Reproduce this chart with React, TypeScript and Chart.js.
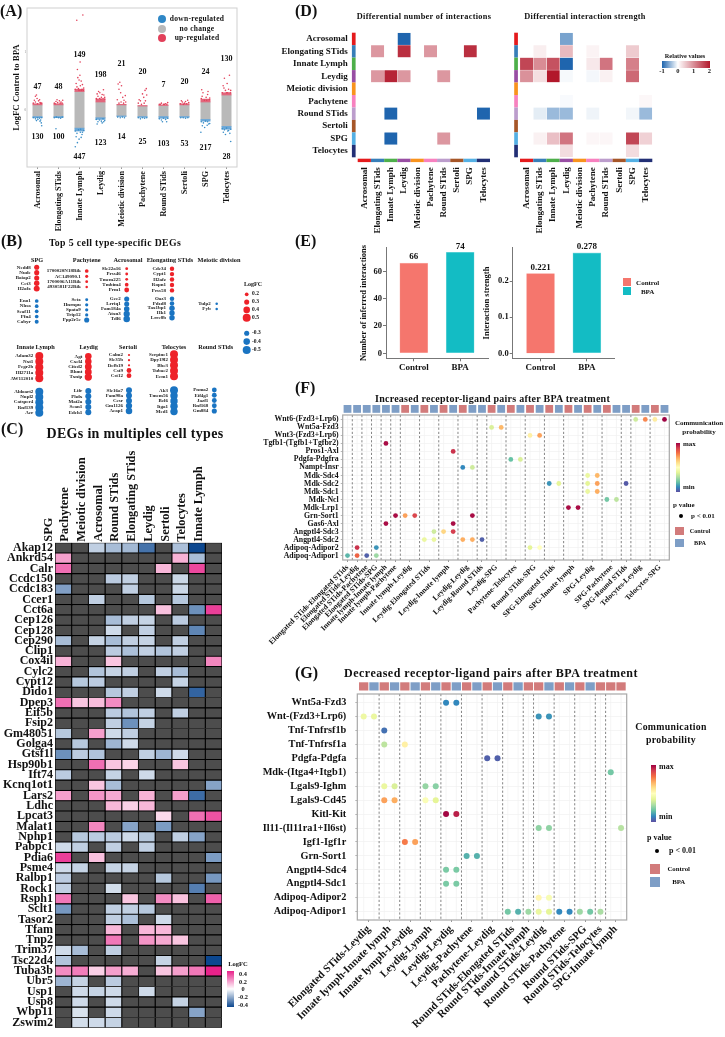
import React, { useEffect, useRef } from 'react';
import Chart from 'chart.js/auto';

const SERIF = '"Liberation Serif"';
const W = 725, H = 1037;

/* ---------- shared categories ---------- */
const cellTypes = ['Acrosomal', 'Elongating STids', 'Innate Lymph', 'Leydig', 'Meiotic division', 'Pachytene', 'Round STids', 'Sertoli', 'SPG', 'Telocytes'];

/* ---------- panel A data ---------- */
const aBandTop = [0.09, 0.09, 0.32, 0.14, 0.09, 0.07, 0.08, 0.09, 0.14, 0.26];
const aBandBottom = [-0.11, -0.11, -0.31, -0.13, -0.10, -0.11, -0.11, -0.11, -0.16, -0.28];
const aUpDense = [0.02, 0.02, 0.04, 0.05, 0.01, 0.01, 0.01, 0.02, 0.05, 0.04];
const aDownDense = [0.02, 0.02, 0.05, 0.03, 0.01, 0.015, 0.03, 0.015, 0.03, 0.05];
const aUpCounts = [47, 48, 149, 198, 21, 20, 7, 20, 24, 130];
const aDownCounts = [130, 100, 447, 123, 14, 25, 103, 53, 217, 28];
const aUpLabelY = [0.40, 0.40, 0.95, 0.60, 0.79, 0.66, 0.43, 0.48, 0.66, 0.88];
const aDownLabelY = [-0.47, -0.47, -0.81, -0.57, -0.47, -0.55, -0.59, -0.59, -0.66, -0.81];
const aUpPoints = [
  [-.2, .12, -.1, .14, 0, .11, .12, .13, .2, .12, -.15, .17, -.02, .2, .05, .16, -.1, .24, -.05, .26, .1, .18, .15, .12],
  [-.2, .12, -.12, .15, -.04, .13, .04, .16, .12, .14, .2, .17, -.16, .11, .08, .12, .17, .12, -.07, .18],
  [-.2, .36, -.12, .4, -.05, .37, .04, .42, .12, .36, .2, .38, -.16, .46, -.02, .52, .08, .5, .14, .44, -.08, .56, .02, .6, -.13, 1.55, .16, 1.64, .03, .83, -.1, .7, .08, .34, -.02, .34, .18, .34],
  [-.2, .2, -.12, .24, -.05, .2, .04, .22, .12, .2, .2, .22, -.16, .28, -.03, .3, .08, .27, .14, .35, -.09, .32, .16, .26, .02, .19, -.18, .19, .2, .19],
  [-.2, .18, -.12, .36, -.08, .48, 0, .42, .06, .22, .12, .17, .18, .25, -.04, .3, -.16, .45, .2, .14, .1, .12, -.02, .14, -.12, .12],
  [-.2, .12, -.1, .16, 0, .28, .06, .22, .12, .34, .18, .37, .2, .26, -.05, .1, .14, .16, .08, .12, -.16, .18],
  [-.2, .1, -.1, .12, 0, .1, .1, .11, .2, .13, .16, .1, -.15, .1, .05, .1],
  [-.2, .11, -.1, .14, 0, .12, .1, .11, .2, .13, -.15, .16, .05, .15, .15, .17, -.05, .1],
  [-.2, .2, -.12, .3, -.05, .17, .03, .22, .1, .27, .18, .18, -.16, .24, .12, .32, -.18, .35, .2, .21, .06, .17],
  [-.2, .3, -.12, .38, -.05, .34, .03, .46, .1, .36, .18, .3, -.16, .42, .14, .6, -.1, .55, .06, .3, .2, .34, 0, .3],
];
const aDownPoints = [
  [-.2, -.13, -.1, -.15, 0, -.13, .1, -.14, .2, -.13, -.05, -.18, .12, -.19, .18, -.22, .2, -.27, .02, -.16, .15, -.17],
  [-.2, -.13, -.1, -.12, 0, -.13, .1, -.14, .18, -.12, -.12, -.32],
  [-.2, -.36, -.12, -.4, -.05, -.34, .04, -.38, .12, -.42, .2, -.35, -.16, -.46, -.02, -.5, .08, -.47, .14, -.38, -.1, -.56, -.2, -.63, .05, -.33],
  [-.2, -.16, -.12, -.2, -.05, -.17, .04, -.19, .12, -.15, .2, -.18, -.16, -.24, .08, -.22, .15, -.2],
  [-.18, -.12, -.06, -.13, .04, -.12, .14, -.13],
  [-.2, -.13, -.1, -.15, 0, -.13, .1, -.14, .2, -.13],
  [-.2, -.15, -.1, -.17, 0, -.14, .1, -.16, .2, -.14, .15, -.2, -.05, -.2],
  [-.18, -.13, -.06, -.13, .05, -.14, .16, -.13],
  [-.2, -.2, -.1, -.22, 0, -.19, .1, -.2, .2, -.23, -.15, -.27, .08, -.26, -.04, -.3, .15, -.24, -.22, -.38],
  [-.2, -.32, -.1, -.34, 0, -.31, .1, -.35, .2, -.33, -.15, -.38, .06, -.36, .16, -.4, .2, -.54, -.05, -.42],
];

/* ---------- panel B data ---------- */
const spgUpGenes = ['Nedd8', 'Nude', 'Baiap2', 'Cct3', 'H2afx'];
const spgUpFc = [0.3, 0.3, 0.3, 0.32, 0.36];
const spgDownGenes = ['Eno1', 'Nhsa', 'Scaf11', 'Pfn4', 'Cabyr'];
const spgDownFc = [0.2, 0.2, 0.2, 0.2, 0.22];
const pachyUpGenes = ['1700020N18Rik', 'AC149090.1', '1700006A11Rik', '4930581F22Rik'];
const pachyUpFc = [0.2, 0.16, 0.14, 0.12];
const pachyDownGenes = ['Setx', 'Hnrnpu', 'Spata9', 'Trip12', 'Ppp2r5c'];
const pachyDownFc = [0.15, 0.17, 0.17, 0.17, 0.3];
const acroUpGenes = ['Slc22a16', 'Prss46', 'Tmem225', 'Tmbim4', 'Prm1'];
const acroUpFc = [0.14, 0.14, 0.14, 0.2, 0.28];
const acroDownGenes = ['Gcc2', 'Lrriq1', 'Fam184a', 'Atxn3', 'Tdl6'];
const acroDownFc = [0.3, 0.3, 0.33, 0.38, 0.4];
const elongUpGenes = ['Cdc34', 'Cypt1', 'H2afz', 'Ropn1', 'Prss58'];
const elongUpFc = [0.25, 0.25, 0.25, 0.25, 0.25];
const elongDownGenes = ['Oaz3', 'Pdzd8', 'Tax1bp1', 'Hk1', 'Lrrc8b'];
const elongDownFc = [0.26, 0.26, 0.32, 0.32, 0.32];
const meioDownGenes = ['Tulp2', 'Fyb'];
const meioDownFc = [0.12, 0.12];
const innateUpGenes = ['Adam32', 'Nxt1', 'Fcgr2b', 'Hl2711a', 'AW112010'];
const innateUpFc = [0.5, 0.5, 0.5, 0.5, 0.5];
const innateDownGenes = ['Aldoart2', 'Nupl2', 'Catsper4', 'Rnf139', 'Acr'];
const innateDownFc = [0.5, 0.5, 0.5, 0.5, 0.5];
const leydigUpGenes = ['Agt', 'Cxcl4', 'Cited2', 'Bhmt', 'Txnip'];
const leydigUpFc = [0.4, 0.4, 0.42, 0.42, 0.45];
const leydigDownGenes = ['Lifr', 'Phdx', 'Mat2a', 'Scan1', 'Edeh1'];
const leydigDownFc = [0.36, 0.36, 0.36, 0.36, 0.36];
const sertoliUpGenes = ['Calm2', 'Slc35b', 'Defb19', 'Cst9', 'Cst12'];
const sertoliUpFc = [0.1, 0.1, 0.1, 0.28, 0.28];
const sertoliDownGenes = ['Slc16a7', 'Fam98a', 'Ccsr', 'Gm1126', 'Acap1'];
const sertoliDownFc = [0.36, 0.36, 0.36, 0.38, 0.4];
const teloUpGenes = ['Serpine1', 'Dpy19l2', 'Bbc3', 'Tubac2', 'Ecm1'];
const teloUpFc = [0.5, 0.5, 0.5, 0.5, 0.5];
const teloDownGenes = ['Ak3', 'Tmem56', 'Bcl6', 'Itga1', 'Med1'];
const teloDownFc = [0.5, 0.46, 0.46, 0.46, 0.46];
const roundDownGenes = ['Pnma2', 'Eif4g1', 'Jazf1', 'Rnf168', 'Gm884'];
const roundDownFc = [0.28, 0.28, 0.28, 0.28, 0.3];
const bLegendUp = [0.2, 0.3, 0.4, 0.5];
const bLegendDown = [0.3, 0.4, 0.5];

/* ---------- panel C data ---------- */
const cColumns = ['SPG', 'Pachytene', 'Meiotic division', 'Acrosomal', 'Round STids', 'Elongating STids', 'Leydig', 'Sertoli', 'Telocytes', 'Innate Lymph'];
const cGenes = ['Akap12', 'Ankrd54', 'Calr', 'Ccdc150', 'Ccdc183', 'Ccer1', 'Cct6a', 'Cep126', 'Cep128', 'Cep290', 'Clip1', 'Cox4il', 'Cylc2', 'Cypt12', 'Dido1', 'Dpep3', 'Eif5b', 'Fsip2', 'Gm48051', 'Golga4', 'Gtsf1l', 'Hsp90b1', 'Ift74', 'Kcnq1ot1', 'Lars2', 'Ldhc', 'Lpcat3', 'Malat1', 'Nphp1', 'Pabpc1', 'Pdia6', 'Psme4', 'Ralbp1', 'Rock1', 'Rsph1', 'Sclt1', 'Tasor2', 'Tfam', 'Tnp2', 'Trim37', 'Tsc22d4', 'Tuba3b', 'Ubr5', 'Usp1', 'Usp8', 'Wbp11', 'Zswim2'];
const n = null;
const cValues = [
  [n, n, -.13, -.18, -.19, -.38, n, -.17, -.5, n],
  [.2, n, n, n, n, n, n, .16, -.18, n],
  [.3, n, n, n, n, n, .15, n, .38, n],
  [n, n, n, -.14, -.13, n, n, -.11, n, n],
  [-.26, n, n, n, -.13, n, n, -.11, n, n],
  [n, n, -.13, n, n, -.15, n, -.15, n, n],
  [n, n, n, n, n, n, .13, n, -.3, .4],
  [n, n, n, -.18, -.13, -.12, n, -.14, n, n],
  [n, n, n, -.1, n, -.13, n, n, -.33, n],
  [-.18, n, -.12, -.18, -.13, -.12, n, -.13, n, n],
  [n, n, n, -.14, -.17, -.13, -.16, -.13, n, n],
  [.16, n, n, .12, n, n, n, n, n, .25],
  [n, n, -.16, -.12, -.13, n, -.13, -.18, n, n],
  [n, -.15, -.14, n, n, n, n, -.12, n, n],
  [n, n, n, -.15, -.13, n, -.1, n, -.42, n],
  [.3, .12, .14, .24, n, n, n, n, n, n],
  [n, n, n, -.14, -.16, -.13, n, -.13, n, n],
  [n, n, n, -.13, -.3, -.12, n, n, n, n],
  [-.15, n, .2, -.1, -.13, n, n, n, n, n],
  [n, -.15, n, -.2, -.1, n, n, n, n, n],
  [-.3, -.14, -.16, n, n, -.13, -.2, -.1, n, n],
  [n, n, .3, .12, .09, n, n, .12, n, n],
  [-.14, n, n, -.12, n, -.1, n, n, n, n],
  [n, n, .12, -.18, n, n, n, n, n, -.25],
  [.2, n, .22, .18, n, .16, n, .2, -.4, n],
  [n, n, n, .15, .1, .15, n, n, n, n],
  [n, n, n, n, n, n, .08, n, .3, .36],
  [n, n, .25, n, -.25, n, -.27, n, n, n],
  [n, -.15, -.14, -.14, -.1, -.15, n, -.13, -.25, n],
  [-.1, -.13, n, -.13, n, -.13, n, n, n, n],
  [.4, n, .13, n, n, n, n, n, n, -.27],
  [-.1, -.12, n, -.12, -.12, n, n, n, n, n],
  [-.14, n, n, n, n, n, -.15, n, n, -.28],
  [-.13, n, n, -.09, n, n, n, n, -.35, n],
  [.28, n, n, n, .12, n, .24, .13, n, .33],
  [-.28, n, n, -.13, -.13, -.15, n, n, n, n],
  [n, n, n, -.13, -.17, n, -.1, n, n, n],
  [n, n, n, .15, n, .15, .15, n, n, n],
  [n, n, n, .28, n, .22, .18, .12, n, n],
  [-.1, -.18, n, -.13, n, n, n, n, n, n],
  [-.16, n, n, n, n, n, -.12, n, n, -.5],
  [.24, .27, .1, .2, .17, n, .12, .2, .28, .48],
  [-.2, -.12, n, -.14, n, n, n, n, n, n],
  [n, -.1, -.12, -.1, n, -.1, n, n, n, n],
  [n, -.1, n, -.1, n, n, n, -.12, n, n],
  [n, -.08, n, -.1, n, n, n, n, -.25, n],
  [n, -.09, -.1, -.12, n, n, n, n, n, n],
];

/* ---------- panel D data ---------- */
const dNumberValues = [
  [n, n, n, -1, n, n, n, n, n, n],
  [n, .9, n, 1.8, n, .9, n, n, 1.8, n],
  [n, n, n, n, n, n, n, n, n, n],
  [n, .9, 1.9, .9, n, n, .9, n, n, n],
  [n, n, n, n, n, n, n, n, n, n],
  [n, n, n, n, n, n, n, n, n, n],
  [n, n, -1, n, n, n, n, n, n, -1],
  [n, n, n, n, n, n, n, n, n, n],
  [n, n, -1, n, n, n, .9, n, n, n],
  [n, n, n, n, n, n, n, n, n, n],
];
const dStrengthValues = [
  [n, n, n, -.6, n, n, n, n, n, n],
  [n, .15, n, .6, n, .1, n, n, .45, n],
  [1.6, 1, 1.5, -1, n, .2, 1.2, n, 1.1, n],
  [.95, .28, 2, -.04, n, -.05, .12, n, 1.3, n],
  [n, n, n, n, n, n, n, n, n, n],
  [n, n, n, -.03, n, n, n, n, n, .07],
  [n, -.12, -.45, -.45, n, -.07, n, n, -.06, -.45],
  [n, n, n, n, n, n, n, n, n, n],
  [n, .12, .55, 1.2, n, .08, .08, n, 1.6, .4],
  [n, n, n, .3, n, n, n, n, .3, n],
];

/* ---------- panel E data ---------- */
const eConditions = ['Control', 'BPA'];
const eNumbers = [66, 74];
const eStrengths = [0.221, 0.278];
const eNumberTicks = [0, 20, 40, 60];
const eStrengthTicks = [0, 0.1, 0.2];

/* ---------- panel F data ---------- */
const fRows = ['Wnt6-(Fzd3+Lrp6)', 'Wnt5a-Fzd3', 'Wnt3-(Fzd3+Lrp6)', 'Tgfb1-(Tgfb1+Tgfbr2)', 'Pros1-Axl', 'Pdgfa-Pdgfra', 'Nampt-Insr', 'Mdk-Sdc4', 'Mdk-Sdc2', 'Mdk-Sdc1', 'Mdk-Ncl', 'Mdk-Lrp1', 'Grn-Sort1', 'Gas6-Axl', 'Angptl4-Sdc3', 'Angptl4-Sdc2', 'Adipoq-Adipor2', 'Adipoq-Adipor1'];
const fGroups = ['Elongated STids-Elongated STids', 'Elongated STids-Leydig', 'Elongated STids-Pachytene', 'Elongated STids-SPG', 'Innate lymph-Innate lymph', 'Innate lymph-Pachytene', 'Innate lymph-Leydig', 'Leydig-Elongated STids', 'Leydig-Innate lymph', 'Leydig-Leydig', 'Leydig-Round STids', 'Leydig-SPG', 'Pachytene-Telocytes', 'Round STids-SPG', 'SPG-Elongated STids', 'SPG-Innate lymph', 'SPG-Leydig', 'SPG-Pachytene', 'SPG-Round STids', 'Telocytes-Leydig', 'Telocytes-SPG'];
const fGroupSizes = [1, 1, 1, 1, 1, 1, 2, 2, 2, 2, 1, 2, 2, 2, 2, 2, 2, 2, 1, 2, 2];
const fConditions = 'BBBBBBRBRBRBRBBRBRBRBRBRBRBRBBRBRB'.slice(0, 34).split('');
const fDotRow = [0, 0, 0, 0, 1, 1, 2, 2, 3, 4, 5, 5, 6, 6, 7, 7, 8, 8, 8, 8, 8, 9, 9, 10, 10, 11, 11, 12, 12, 12, 12, 13, 13, 14, 14, 14, 15, 15, 15, 15, 15, 16, 16, 16, 16, 17, 17, 17, 17];
const fDotCol = [30, 31, 32, 33, 15, 16, 19, 20, 4, 11, 17, 18, 12, 13, 25, 26, 21, 22, 25, 26, 29, 25, 26, 27, 28, 23, 24, 5, 6, 7, 13, 4, 11, 9, 10, 11, 8, 9, 12, 13, 14, 1, 3, 19, 20, 0, 1, 2, 3];
const fDotProb = [.36, .76, .56, 1, .38, .68, .55, .72, .98, .92, .2, .38, .1, .36, .42, .68, .12, .4, .4, .72, .02, .42, .7, .22, .33, .98, .98, .98, .72, .88, .98, .98, .98, .36, .62, .9, .42, .42, .7, .7, .03, .92, .12, .4, .5, .18, .82, .03, .28];

/* ---------- panel G data ---------- */
const gRows = ['Wnt5a-Fzd3', 'Wnt-(Fzd3+Lrp6)', 'Tnf-Tnfrsf1b', 'Tnf-Tnfrsf1a', 'Pdgfa-Pdgfa', 'Mdk-(Itga4+Itgb1)', 'Lgals9-Ighm', 'Lgals9-Cd45', 'Kitl-Kit', 'Il11-(Il11ra1+Il6st)', 'Igf1-Igf1r', 'Grn-Sort1', 'Angptl4-Sdc4', 'Angptl4-Sdc1', 'Adipoq-Adipor2', 'Adipoq-Adipor1'];
const gGroups = ['Elongated STids-Leydig', 'Innate lymph-Innate lymph', 'Innate lymph-Leydig', 'Leydig-Lymph', 'Leydig-Leydig', 'Leydig-Pachytene', 'Pachytene-Leydig', 'Round STids-Elongated STids', 'Round STids-Innate lymph', 'Round STids-Leydig', 'Round STids-Pachytene', 'Round STids-SPG', 'Round STids-Telocytes', 'SPG-Innate lymph'];
const gGroupSizes = [2, 2, 2, 2, 2, 2, 2, 2, 1, 2, 2, 2, 1, 2];
const gConditions = 'RBRBRBRBRBRBRBRBRRBRBRBRRR'.split('');
const gDotRow = [0, 0, 1, 1, 1, 1, 2, 3, 3, 4, 4, 5, 6, 6, 6, 6, 7, 7, 7, 7, 8, 8, 9, 9, 9, 10, 10, 11, 11, 12, 12, 13, 13, 14, 14, 15, 15, 15, 15, 15, 15, 15, 15, 15, 15];
const gDotCol = [8, 9, 0, 1, 17, 18, 2, 2, 4, 12, 13, 24, 2, 3, 6, 7, 2, 3, 6, 7, 8, 9, 17, 18, 25, 4, 5, 10, 11, 8, 9, 8, 9, 17, 18, 14, 15, 16, 17, 18, 19, 20, 21, 22, 23];
const gDotProb = [.1, .1, .43, .42, .12, .12, .06, .33, .55, .03, .03, .22, .42, .38, .27, .25, .72, .7, .48, .4, .99, .95, .26, .26, .32, .78, .72, .17, .17, .23, .23, .23, .23, .53, .47, .22, .17, .28, .42, .4, .1, .1, .28, .22, .3];

/* ---------- colours ---------- */
const STRIP = ['#e41a1c', '#377eb8', '#4daf4a', '#984ea3', '#f8931d', '#f781bf', '#bc9dcc', '#a65628', '#54b0e4', '#222f75'];
const SPECTRAL = ['#5e4fa2', '#3288bd', '#66c2a5', '#abdda4', '#e6f598', '#ffffbf', '#fee08b', '#fdae61', '#f46d43', '#d53e4f', '#9e0142'];
const RED_COND = '#d27b7b', BLUE_COND = '#7e9ec6';
const hex = (h: string) => [1, 3, 5].map((i) => parseInt(h.slice(i, i + 2), 16));
const mix = (a: string, b: string, t: number) => {
  const A = hex(a), B = hex(b), k = Math.max(0, Math.min(1, t));
  return `rgb(${A.map((v, i) => Math.round(v + (B[i] - v) * k)).join(',')})`;
};
const spectral = (t: number) => {
  const p = Math.max(0, Math.min(0.9999, t)) * (SPECTRAL.length - 1), i = Math.floor(p);
  return mix(SPECTRAL[i], SPECTRAL[i + 1], p - i);
};
const cColor = (v: number | null) => v === null ? '#4d4d4d' : v > 0 ? mix('#ffffff', '#e8228a', v / 0.46) : mix('#ffffff', '#0c478f', -v / 0.5);
const dColor = (v: number | null) => v === null ? 'rgba(255,255,255,0)' : v > 0 ? mix('#ffffff', '#b2182b', v / 2) : mix('#ffffff', '#1f65ae', -v);

/* ---------- helpers ---------- */
const font = (size: number) => ({ family: SERIF, weight: 'bold' as const, size });
const sized = (size: number) => (s: any) => { if (s.isHorizontal()) s.height = size; else s.width = size; };
const pad = (l: number, t: number, r: number, b: number, yW = 0, xH = 0, topH = 0) => ({ left: l - yW, top: t - topH, right: W - r, bottom: H - b - xH });
const base = (padding: any, scales: any) => ({
  responsive: false, animation: false as const, devicePixelRatio: 1,
  layout: { padding, autoPadding: false },
  plugins: { legend: { display: false }, tooltip: { enabled: false }, title: { display: false } },
  scales,
});
const framePlugin = (color: string, width: number) => ({
  id: 'frame',
  beforeDatasetsDraw(c: any) {
    const a = c.chartArea, x = c.ctx;
    x.save(); x.strokeStyle = color; x.lineWidth = width; x.strokeRect(a.left, a.top, a.right - a.left, a.bottom - a.top); x.restore();
  },
});

/* ---------- panel A ---------- */
function panelA() {
  const xs = cellTypes.map((_, i) => i);
  const pts = (list: number[][]) => list.flatMap((p, i) => {
    const out: any[] = [];
    for (let k = 0; k < p.length; k += 2) out.push({ x: i + p[k], y: p[k + 1] });
    return out;
  });
  const bar = (data: any[], color: string, order: number) => ({ type: 'bar', data, backgroundColor: color, barThickness: 9.3, grouped: false, order });
  return {
    type: 'bar',
    data: {
      datasets: [
        bar(xs.map((i) => ({ x: i, y: [aBandBottom[i], aBandTop[i]] })), '#b9b9b9', 5),
        bar(xs.map((i) => ({ x: i, y: [aBandTop[i], aBandTop[i] + aUpDense[i]] })), '#e2667c', 4),
        bar(xs.map((i) => ({ x: i, y: [aBandBottom[i] - aDownDense[i], aBandBottom[i]] })), '#6aa7d8', 4),
        { type: 'scatter', data: pts(aUpPoints), backgroundColor: '#e2405a', pointRadius: 0.8, pointBorderWidth: 0, order: 1 },
        { type: 'scatter', data: pts(aDownPoints), backgroundColor: '#3b8ec7', pointRadius: 0.8, pointBorderWidth: 0, order: 1 },
      ],
    },
    options: base(pad(27, 8, 237, 167, 18, 70), {
      x: {
        type: 'linear', min: -0.5, max: 9.5, offset: false,
        grid: { display: true, drawOnChartArea: false, drawTicks: true, tickLength: 2, color: '#999', offset: false },
        border: { display: false },
        ticks: { autoSkip: false, minRotation: 90, maxRotation: 90, font: font(8.2), color: '#111', padding: 2, callback: (_: any, i: number) => cellTypes[i] },
        afterBuildTicks: (s: any) => { s.ticks = xs.map((value) => ({ value })); },
        afterFit: sized(70),
      },
      y: {
        min: -0.98, max: 1.76,
        grid: { display: false, drawTicks: false },
        border: { display: false },
        ticks: { stepSize: 1, font: { family: SERIF, size: 3 }, color: '#777', padding: 1 },
        afterBuildTicks: (s: any) => { s.ticks = [{ value: 0 }, { value: 1 }]; },
        title: { display: true, text: 'LogFC Control to BPA', font: font(8.8), color: '#111', padding: { top: 2, bottom: 0 } },
        afterFit: sized(18),
      },
    }),
    plugins: [framePlugin('#cfcfcf', 1), {
      id: 'counts',
      afterDatasetsDraw(c: any) {
        const x = c.ctx; x.save(); x.font = `bold 8px ${SERIF}`; x.fillStyle = '#111'; x.textAlign = 'center'; x.textBaseline = 'middle';
        xs.forEach((i) => {
          x.fillText(String(aUpCounts[i]), c.scales.x.getPixelForValue(i), c.scales.y.getPixelForValue(aUpLabelY[i]));
          x.fillText(String(aDownCounts[i]), c.scales.x.getPixelForValue(i), c.scales.y.getPixelForValue(aDownLabelY[i]));
        });
        x.restore();
      },
    }],
  };
}

/* ---------- panel B ---------- */
const bBlocks = [
  { dot: 36.7, up: 267.3, upStep: 5.33, dn: 301, dnStep: 5.17, ug: spgUpGenes, uf: spgUpFc, dg: spgDownGenes, df: spgDownFc },
  { dot: 86.7, up: 271, upStep: 5.33, dn: 299.7, dnStep: 5.08, ug: pachyUpGenes, uf: pachyUpFc, dg: pachyDownGenes, df: pachyDownFc },
  { dot: 126.7, up: 268.7, upStep: 5.33, dn: 299, dnStep: 5, ug: acroUpGenes, uf: acroUpFc, dg: acroDownGenes, df: acroDownFc },
  { dot: 172, up: 268.7, upStep: 5.42, dn: 298.7, dnStep: 4.75, ug: elongUpGenes, uf: elongUpFc, dg: elongDownGenes, df: elongDownFc },
  { dot: 216.7, up: 0, upStep: 0, dn: 303.7, dnStep: 5.33, ug: [], uf: [], dg: meioDownGenes, df: meioDownFc },
  { dot: 39.3, up: 356, upStep: 5.58, dn: 391.7, dnStep: 5.25, ug: innateUpGenes, uf: innateUpFc, dg: innateDownGenes, df: innateDownFc },
  { dot: 88.3, up: 356.3, upStep: 5.2, dn: 391, dnStep: 5.33, ug: leydigUpGenes, uf: leydigUpFc, dg: leydigDownGenes, df: leydigDownFc },
  { dot: 129, up: 355, upStep: 5.17, dn: 390.3, dnStep: 5.17, ug: sertoliUpGenes, uf: sertoliUpFc, dg: sertoliDownGenes, df: sertoliDownFc },
  { dot: 174, up: 354.3, upStep: 5.5, dn: 390.3, dnStep: 5.33, ug: teloUpGenes, uf: teloUpFc, dg: teloDownGenes, df: teloDownFc },
  { dot: 214.3, up: 0, upStep: 0, dn: 390, dnStep: 5.25, ug: [], uf: [], dg: roundDownGenes, df: roundDownFc },
];
const radiusOf = (fc: number) => 0.4 + 7.2 * fc;
function panelB() {
  const red: any[] = [], blue: any[] = [], labels: any[] = [];
  bBlocks.forEach((b) => {
    b.uf.forEach((fc, i) => { red.push({ x: b.dot, y: b.up + i * b.upStep, r: radiusOf(fc) }); labels.push([b.ug[i], b.dot - 6, b.up + i * b.upStep]); });
    b.df.forEach((fc, i) => { blue.push({ x: b.dot, y: b.dn + i * b.dnStep, r: radiusOf(fc) }); labels.push([b.dg[i], b.dot - 6, b.dn + i * b.dnStep]); });
  });
  bLegendUp.forEach((fc, i) => red.push({ x: 246.7, y: 294.3 + i * 7.8, r: radiusOf(fc) }));
  bLegendDown.forEach((fc, i) => blue.push({ x: 246.7, y: 333.3 + i * 8.3, r: radiusOf(fc) }));
  return {
    type: 'bubble',
    data: { datasets: [
      { data: red, backgroundColor: '#ee2229', borderWidth: 0, clip: false },
      { data: blue, backgroundColor: '#1a74c2', borderWidth: 0, clip: false },
    ] },
    options: base({ left: 0, top: 0, right: 0, bottom: 0 }, {
      x: { display: false, min: 0, max: W },
      y: { display: false, min: 0, max: H, reverse: true },
    }),
    plugins: [{
      id: 'geneLabels',
      afterDatasetsDraw(c: any) {
        const x = c.ctx; x.save(); x.font = `bold 5px ${SERIF}`; x.fillStyle = '#222'; x.textAlign = 'right'; x.textBaseline = 'middle';
        labels.forEach(([t, px, py]) => x.fillText(t, c.scales.x.getPixelForValue(px), c.scales.y.getPixelForValue(py)));
        x.restore();
      },
    }],
  };
}

/* ---------- heatmaps ---------- */
function heat(o: any) {
  const datasets = o.cols.map((name: string, ci: number) => ({
    label: name,
    data: o.rows.map(() => 1),
    backgroundColor: o.rows.map((_: string, ri: number) => o.color(o.values[ri][ci])),
    borderColor: o.border, borderWidth: o.bw, borderSkipped: false,
    barPercentage: 1, categoryPercentage: 1, stack: 's',
  }));
  const plugins = o.strips ? [{
    id: 'strips',
    afterDatasetsDraw(c: any) {
      const x = c.ctx, a = c.chartArea, sx = c.scales.x, sy = c.scales.y;
      const rh = (a.bottom - a.top) / o.rows.length;
      x.save();
      o.rows.forEach((_: string, i: number) => {
        x.fillStyle = STRIP[i];
        x.fillRect(a.left - 5.8, sy.getPixelForValue(i) - rh / 2, 3.7, rh);
      });
      o.cols.forEach((_: string, i: number) => {
        x.fillStyle = STRIP[i];
        x.fillRect(sx.getPixelForValue(i), a.bottom + 1.4, sx.getPixelForValue(i + 1) - sx.getPixelForValue(i), 3.4);
      });
      x.restore();
    },
  }] : [];
  const topAxis = o.xPos === 'top';
  return {
    type: 'bar',
    data: { labels: o.rows, datasets },
    options: {
      indexAxis: 'y',
      ...base(pad(o.l, o.t, o.r, o.b, o.yW, topAxis ? 0 : o.xH, topAxis ? o.xH : 0), {
        x: {
          type: 'linear', position: o.xPos, min: 0, max: o.cols.length, stacked: true,
          grid: { display: false, drawTicks: false }, border: { display: false },
          ticks: { autoSkip: false, minRotation: 90, maxRotation: 90, font: font(o.xFont), color: '#111', padding: o.xPad, callback: (_: any, i: number) => o.cols[i] },
          afterBuildTicks: (s: any) => { s.ticks = o.cols.map((_: string, i: number) => ({ value: i + 0.5 })); },
          afterFit: sized(o.xH),
        },
        y: o.yW ? {
          type: 'category', stacked: true,
          grid: { display: false, drawTicks: false }, border: { display: false },
          ticks: { autoSkip: false, font: font(o.yFont), color: '#111', padding: o.yPad },
          afterFit: sized(o.yW),
        } : { type: 'category', stacked: true, display: false },
      }),
    },
    plugins,
  };
}

/* ---------- panel E ---------- */
function barE(o: any) {
  return {
    type: 'bar',
    data: { datasets: [{
      data: o.values.map((y: number, x: number) => ({ x, y })),
      backgroundColor: ['#f5766d', '#13bcc4'], borderColor: ['#fbb7b2', '#8fe0e3'], borderWidth: 0.6, barThickness: 28,
    }] },
    options: base(pad(o.l, 247.7, o.r, 358.3, o.yW, 16), {
      x: {
        type: 'linear', min: -0.6, max: 1.6, offset: false,
        grid: { drawOnChartArea: false, tickLength: 3, color: '#777', offset: false }, border: { color: '#777', width: 1 },
        ticks: { autoSkip: false, font: font(9), color: '#111', padding: 1, callback: (_: any, i: number) => eConditions[i] },
        afterBuildTicks: (s: any) => { s.ticks = eConditions.map((_, value) => ({ value })); },
        afterFit: sized(16),
      },
      y: {
        min: o.min, max: o.max,
        grid: { drawOnChartArea: false, tickLength: 3, color: '#777' }, border: { color: '#777', width: 1 },
        ticks: { font: font(8.5), color: '#111', padding: 1, callback: o.fmt },
        afterBuildTicks: (s: any) => { s.ticks = o.ticks.map((value: number) => ({ value })); },
        title: { display: true, text: o.title, font: font(8.5), color: '#111', padding: { top: 0, bottom: 0 } },
        afterFit: sized(o.yW),
      },
    }),
    plugins: [{
      id: 'values',
      afterDatasetsDraw(c: any) {
        const x = c.ctx; x.save(); x.font = `bold 9px ${SERIF}`; x.fillStyle = '#111'; x.textAlign = 'center'; x.textBaseline = 'bottom';
        c.getDatasetMeta(0).data.forEach((e: any, i: number) => x.fillText(o.labels[i], e.x, e.y - 1.5));
        x.restore();
      },
    }],
  };
}

/* ---------- dot plots ---------- */
function dotPlot(o: any) {
  const centers: number[] = [], bounds: number[] = [];
  let at = 0;
  o.sizes.forEach((s: number) => { centers.push(at + (s - 1) / 2); at += s; bounds.push(at - 0.5); });
  bounds.pop();
  return {
    type: 'scatter',
    data: { datasets: [{
      data: o.dotRow.map((r: number, i: number) => ({ x: o.dotCol[i], y: r })),
      backgroundColor: o.prob.map((p: number) => spectral(p)),
      pointRadius: o.radius, pointBorderWidth: 0,
    }] },
    options: base(pad(o.l, o.t, o.r, o.b, o.yW, o.xH), {
      x: {
        type: 'linear', min: o.xMin, max: o.xMax,
        grid: { drawOnChartArea: false, tickLength: 2, color: '#999' }, border: { display: false },
        ticks: { autoSkip: false, minRotation: 45, maxRotation: 45, font: font(o.xFont), color: '#111', padding: 1, callback: (_: any, i: number) => o.groups[i] },
        afterBuildTicks: (s: any) => { s.ticks = centers.map((value) => ({ value })); },
        afterFit: sized(o.xH),
      },
      y: {
        type: 'linear', min: o.yMin, max: o.yMax, reverse: true,
        grid: { color: '#f1f1f1', lineWidth: 0.7, tickLength: 2, drawTicks: true, tickColor: '#999' }, border: { display: false },
        ticks: { autoSkip: false, font: font(o.yFont), color: '#111', padding: o.yPad, callback: (_: any, i: number) => o.rows[i] },
        afterBuildTicks: (s: any) => { s.ticks = o.rows.map((_: string, value: number) => ({ value })); },
        afterFit: sized(o.yW),
      },
    }),
    plugins: [{
      id: 'annot',
      beforeDatasetsDraw(c: any) {
        const x = c.ctx, a = c.chartArea, sx = c.scales.x;
        x.save();
        x.strokeStyle = '#f1f1f1'; x.lineWidth = 0.7;
        o.cond.forEach((_: string, i: number) => { const p = sx.getPixelForValue(i); x.beginPath(); x.moveTo(p, a.top); x.lineTo(p, a.bottom); x.stroke(); });
        x.strokeStyle = '#666'; x.lineWidth = 0.8; x.setLineDash([2.2, 2]);
        bounds.forEach((b) => { const p = sx.getPixelForValue(b); x.beginPath(); x.moveTo(p, a.top); x.lineTo(p, a.bottom); x.stroke(); });
        x.setLineDash([]);
        x.strokeStyle = '#a8a8a8'; x.lineWidth = 1.2; x.strokeRect(a.left, a.top, a.right - a.left, a.bottom - a.top);
        o.cond.forEach((k: string, i: number) => {
          x.fillStyle = k === 'R' ? RED_COND : BLUE_COND;
          x.fillRect(sx.getPixelForValue(i) - o.sq / 2, o.sqTop, o.sq, o.sqH);
        });
        x.restore();
      },
    }],
  };
}

const builders = [
  panelA,
  panelB,
  () => heat({ rows: cGenes, cols: cColumns, values: cValues, color: cColor, l: 55, t: 542.7, r: 222, b: 1031, yW: 55, xH: 100, xPos: 'top', xFont: 12.4, yFont: 12, xPad: 1, yPad: 2, border: '#000', bw: 0.9 }),
  () => heat({ rows: cellTypes, cols: cellTypes, values: dNumberValues, color: dColor, l: 357.7, t: 32.7, r: 490, b: 157.3, yW: 80, xH: 80, xPos: 'bottom', xFont: 9, yFont: 9, xPad: 10, yPad: 10, border: '#ffffff', bw: 0.4, strips: true }),
  () => heat({ rows: cellTypes, cols: cellTypes, values: dStrengthValues, color: dColor, l: 520, t: 32.7, r: 652.3, b: 157.3, yW: 0, xH: 80, xPos: 'bottom', xFont: 9, yFont: 9, xPad: 10, yPad: 10, border: '#ffffff', bw: 0.4, strips: true }),
  () => barE({ values: eNumbers, labels: eNumbers.map(String), ticks: eNumberTicks, min: -3.66, max: 77.3, l: 386, r: 488, yW: 27, title: 'Number of inferred interactions', fmt: (v: number) => String(v) }),
  () => barE({ values: eStrengths, labels: eStrengths.map((v) => v.toFixed(3)), ticks: eStrengthTicks, min: -0.0138, max: 0.2925, l: 512.7, r: 614.7, yW: 31, title: 'Interaction strength', fmt: (v: number) => v.toFixed(1) }),
  () => dotPlot({ rows: fRows, groups: fGroups, sizes: fGroupSizes, cond: fConditions, dotRow: fDotRow, dotCol: fDotCol, prob: fDotProb, l: 342.7, t: 415, r: 669.3, b: 560, yW: 90, xH: 100, xMin: -0.5, xMax: 33.5, yMin: -0.55, yMax: 17.55, radius: 2.4, xFont: 7.6, yFont: 7.8, yPad: 2, sq: 7.8, sqTop: 405, sqH: 7.8 }),
  () => dotPlot({ rows: gRows, groups: gGroups, sizes: gGroupSizes, cond: gConditions, dotRow: gDotRow, dotCol: gDotCol, prob: gDotProb, l: 357.3, t: 694, r: 626.7, b: 920, yW: 100, xH: 115, xMin: -0.62, xMax: 25.55, yMin: -0.62, yMax: 15.6, radius: 3, xFont: 10.8, yFont: 10.3, yPad: 9, sq: 9.3, sqTop: 682.3, sqH: 8.2 }),
];

/* ---------- DOM text ---------- */
function T({ x, y, s, a = 'c', children, ls = 0 }: any) {
  const tx = a === 'c' ? '-50%' : a === 'r' ? '-100%' : '0';
  return <div style={{ position: 'absolute', left: x, top: y, transform: `translate(${tx},-50%)`, fontFamily: SERIF, fontWeight: 700, fontSize: s, lineHeight: 1, color: '#111', whiteSpace: 'nowrap', letterSpacing: ls }}>{children}</div>;
}
function Box({ x, y, w, h, bg, round }: any) {
  return <div style={{ position: 'absolute', left: x, top: y, width: w, height: h, background: bg, borderRadius: round ? '50%' : 0 }} />;
}
const spectralCss = SPECTRAL.slice().reverse().join(',');

export default function App() {
  const refs = useRef<(HTMLCanvasElement | null)[]>([]);
  useEffect(() => {
    const charts = builders.map((b, i) => new Chart(refs.current[i] as HTMLCanvasElement, b() as any));
    return () => charts.forEach((c) => c.destroy());
  }, []);
  return (
    <div style={{ position: 'absolute', left: 0, top: 0, width: W, height: H, background: '#fff', overflow: 'hidden' }}>
      {builders.map((_, i) => (
        <canvas key={i} ref={(el) => { refs.current[i] = el; }} width={W} height={H} style={{ position: 'absolute', left: 0, top: 0, width: W, height: H }} />
      ))}
      {/* panel letters */}
      <T x={0} y={11} s={16} a="l">(A)</T>
      <T x={1} y={240.7} s={16} a="l">(B)</T>
      <T x={1} y={429} s={16} a="l">(C)</T>
      <T x={295} y={11} s={16} a="l">(D)</T>
      <T x={295} y={240.7} s={16} a="l">(E)</T>
      <T x={295} y={388} s={16} a="l">(F)</T>
      <T x={295} y={672.7} s={16} a="l">(G)</T>

      {/* A legend */}
      <Box x={158} y={15} w={8} h={8} bg="#2f87c6" round />
      <Box x={158} y={25} w={8} h={8} bg="#b9b9b9" round />
      <Box x={158} y={34} w={8} h={8} bg="#e2405a" round />
      <T x={197} y={19} s={7.5} ls={0.3}>down-regulated</T>
      <T x={197} y={29} s={7.5} ls={0.3}>no change</T>
      <T x={197} y={38} s={7.5} ls={0.3}>up-regulated</T>

      {/* B titles */}
      <T x={115} y={243.3} s={9.8} ls={0.35}>Top 5 cell type-specific DEGs</T>
      <T x={37} y={260} s={6.3}>SPG</T>
      <T x={86.7} y={260} s={6.3}>Pachytene</T>
      <T x={128} y={260} s={6.3}>Acrosomal</T>
      <T x={170} y={260} s={6.3}>Elongating STids</T>
      <T x={219} y={260} s={6.3}>Meiotic division</T>
      <T x={35.7} y={347.3} s={6.3}>Innate Lymph</T>
      <T x={88.7} y={347.3} s={6.3}>Leydig</T>
      <T x={128} y={347.3} s={6.3}>Sertoli</T>
      <T x={174} y={347.3} s={6.3}>Telocytes</T>
      <T x={215.7} y={347.3} s={6.3}>Round STids</T>
      <T x={253} y={284} s={6}>LogFC</T>
      {bLegendUp.map((v, i) => <T key={v} x={252} y={294.3 + i * 7.8} s={5.5} a="l">{v}</T>)}
      {bLegendDown.map((v, i) => <T key={v} x={252} y={333.3 + i * 8.3} s={5.5} a="l">{-v}</T>)}

      {/* C title + legend */}
      <T x={135} y={434.3} s={14} ls={0.32}>DEGs in multiples cell types</T>
      <T x={238} y={964} s={6.5}>LogFC</T>
      <div style={{ position: 'absolute', left: 226.7, top: 971, width: 7.6, height: 36, background: 'linear-gradient(#e8228a,#ffffff 50%,#0c478f)' }} />
      {['0.4', '0.2', '0', '-0.2', '-0.4'].map((t, i) => <T key={t} x={243} y={974 + i * 7.7} s={6.3}>{t}</T>)}

      {/* D titles + legend */}
      <T x={424} y={16.7} s={8.3} ls={0.3}>Differential number of interactions</T>
      <T x={585} y={16.7} s={8.3} ls={0.25}>Differential interaction strength</T>
      <T x={685} y={56} s={6.3}>Relative values</T>
      <div style={{ position: 'absolute', left: 662, top: 61, width: 48, height: 6.7, background: 'linear-gradient(90deg,#1f65ae,#ffffff 33%,#b2182b)' }} />
      {['-1', '0', '1', '2'].map((t, i) => <T key={t} x={662 + i * 15.8} y={71} s={6.5}>{t}</T>)}

      {/* E legend */}
      <Box x={623} y={278} w={8} h={8} bg="#f5766d" />
      <Box x={623} y={286.5} w={8} h={8} bg="#13bcc4" />
      <T x={647.7} y={283} s={7}>Control</T>
      <T x={647.7} y={292} s={7}>BPA</T>

      {/* F legend + title */}
      <T x={492.5} y={398.7} s={10} ls={0.25}>Increased receptor-ligand pairs after BPA treatment</T>
      <T x={699} y={422.7} s={7}>Communication</T>
      <T x={699} y={431.7} s={7}>probability</T>
      <div style={{ position: 'absolute', left: 676, top: 442.7, width: 4, height: 49, background: `linear-gradient(${spectralCss})` }} />
      <T x={683} y={444} s={7} a="l">max</T>
      <T x={683} y={486.7} s={7} a="l">min</T>
      <T x={673} y={505} s={7} a="l">p value</T>
      <Box x={679} y={513.7} w={4} h={4} bg="#000" round />
      <T x={691} y={515.7} s={7} a="l">p &lt; 0.01</T>
      <Box x={675} y={527.3} w={9.3} h={8} bg={RED_COND} />
      <Box x={675} y={539} w={9.3} h={8} bg={BLUE_COND} />
      <T x={700} y={531} s={6.2}>Control</T>
      <T x={700} y={543} s={6.2}>BPA</T>

      {/* G legend + title */}
      <T x={491} y={672.7} s={12} ls={0.48}>Decreased receptor-ligand pairs after BPA treatment</T>
      <T x={671} y={726.7} s={9.8} ls={0.3}>Communication</T>
      <T x={671} y={740} s={9.8} ls={0.3}>probability</T>
      <div style={{ position: 'absolute', left: 651, top: 765, width: 4.7, height: 57.3, background: `linear-gradient(${spectralCss})` }} />
      <T x={659} y={767} s={8} a="l">max</T>
      <T x={659} y={816.7} s={8} a="l">min</T>
      <T x={647} y={838} s={8} a="l">p value</T>
      <Box x={654.7} y={849} w={4} h={4} bg="#000" round />
      <T x={669} y={851} s={8} a="l">p &lt; 0.01</T>
      <Box x={650} y={864.3} w={10} h={9.4} bg={RED_COND} />
      <Box x={650} y={877} w={10} h={10} bg={BLUE_COND} />
      <T x={678.7} y={869} s={6.8}>Control</T>
      <T x={678.7} y={882} s={6.8}>BPA</T>
    </div>
  );
}
